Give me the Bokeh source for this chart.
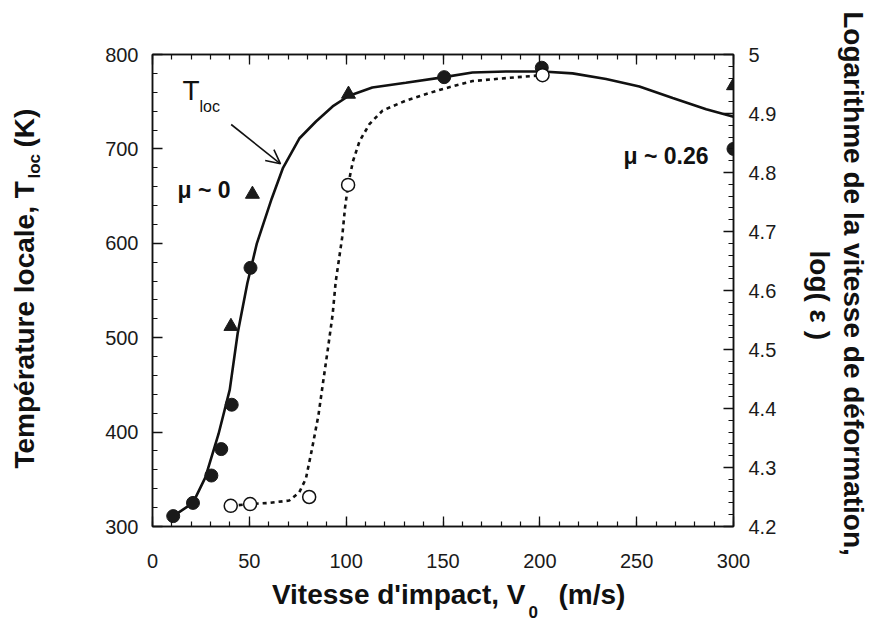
import numpy as np
from bokeh.plotting import figure
from bokeh.layouts import row, column
from bokeh.models import (Range1d, LinearAxis, FixedTicker, Label, Arrow, OpenHead,
                          CustomJSTickFormatter)
from bokeh.embed import file_html
from bokeh.resources import INLINE

# ---------------- data ----------------
x_ticks = [0, 50, 100, 150, 200, 250, 300]
t_ticks = [300, 400, 500, 600, 700, 800]
log_ticks = [4.2, 4.3, 4.4, 4.5, 4.6, 4.7, 4.8, 4.9, 5.0]
log_tick_labels = ["4.2", "4.3", "4.4", "4.5", "4.6", "4.7", "4.8", "4.9", "5"]

# T_loc model curve (solid, left axis)
tloc_v = [10.7, 20.9, 27.3, 34.1, 39.9, 44.0, 49.0, 53.9, 61.5, 67.4, 75.8, 84.4, 93.0,
          101.2, 113.5, 130.8, 150.6, 165.2, 182.5, 201.4, 216.9, 234.2, 251.4, 268.6,
          285.9, 300]
tloc_t = [311, 325, 352, 398, 445, 505, 558, 600, 647, 680, 711, 729, 745,
          756, 765, 770, 776, 781, 782, 782, 780, 774, 766, 754, 742, 734]

# mu ~ 0 (triangles, left axis)
mu0_v = [40.5, 51.6, 101.2, 300]
mu0_t = [512, 652, 758, 767]

# mu ~ 0.26 (filled circles, left axis)
mu026_v = [10.7, 20.9, 30.4, 35.5, 40.9, 50.6, 150.6, 201.0, 300]
mu026_t = [311, 325, 354, 382, 429, 574, 776, 786, 700]

# log strain rate (open circles + dotted curve, right axis)
lograte_v = [40.4, 50.4, 80.9, 101.0, 201.4]
lograte = [4.235, 4.238, 4.250, 4.779, 4.965]
logfit_v = [40.4, 50.4, 60.5, 70.6, 75.8, 79.2, 82.4, 85.7, 88.1, 90.6, 93.0, 94.6, 97.9,
            99.4, 101.0, 103.5, 106.9, 112.0, 118.8, 130.9, 148.1, 165.3, 182.6, 201.4]
logfit = [4.235, 4.238, 4.240, 4.244, 4.258, 4.281, 4.332, 4.389, 4.445, 4.502, 4.559,
          4.615, 4.689, 4.740, 4.779, 4.819, 4.853, 4.882, 4.905, 4.922, 4.940, 4.955,
          4.960, 4.965]

# ---------------- style ----------------
FONT = "Liberation Sans"
INK = "#111111"

MAIN_W, MAIN_H = 690, 575
SIDE_L, SIDE_R = 90, 90
BOTTOM_H = 61
TOTAL_W = SIDE_L + MAIN_W + SIDE_R

p = figure(width=MAIN_W, height=MAIN_H, output_backend="svg", toolbar_location=None,
           x_range=Range1d(0, 300), y_range=Range1d(300, 800),
           x_axis_location=None, y_axis_location=None,
           min_border_left=62, min_border_right=47,
           min_border_top=54, min_border_bottom=49, frame_align=False)
p.background_fill_color = "white"
p.border_fill_color = "white"
p.outline_line_color = INK
p.outline_line_width = 1.5
p.xgrid.visible = False
p.ygrid.visible = False
p.extra_y_ranges = {"log": Range1d(4.2, 5.0)}


def style_axis(ax, show_labels=True):
    ax.axis_line_color = INK
    ax.axis_line_width = 1.5
    ax.major_tick_in = 10
    ax.major_tick_out = 0
    ax.minor_tick_in = 5
    ax.minor_tick_out = 0
    ax.major_tick_line_color = INK
    ax.major_tick_line_width = 1.3
    ax.minor_tick_line_color = INK
    ax.minor_tick_line_width = 1.2
    ax.major_label_text_font = FONT
    ax.major_label_text_font_size = "20px" if show_labels else "0px"
    ax.major_label_text_color = "#1a1a1a"


x_minor = list(np.arange(0, 301, 10))
bottom = LinearAxis(ticker=FixedTicker(ticks=x_ticks, minor_ticks=x_minor),
                    major_label_standoff=27)
style_axis(bottom)
p.add_layout(bottom, "below")

top = LinearAxis(ticker=FixedTicker(ticks=x_ticks, minor_ticks=x_minor),
                 formatter=CustomJSTickFormatter(code="return '';"))
style_axis(top, show_labels=False)
p.add_layout(top, "above")

left = LinearAxis(ticker=FixedTicker(ticks=t_ticks, minor_ticks=list(np.arange(300, 801, 20))),
                  major_label_standoff=14)
style_axis(left)
p.add_layout(left, "left")

right = LinearAxis(y_range_name="log",
                   ticker=FixedTicker(ticks=log_ticks,
                                      minor_ticks=[round(v, 2) for v in np.arange(4.2, 5.001, 0.02)]),
                   formatter=CustomJSTickFormatter(
                       args=dict(tv=log_ticks, tl=log_tick_labels),
                       code="""
                       let best = 0, d = 1e9;
                       for (let i = 0; i < tv.length; i++) {
                         const e = Math.abs(tv[i] - tick);
                         if (e < d) { d = e; best = i; }
                       }
                       return tl[best];"""),
                   major_label_standoff=15)
style_axis(right)
p.add_layout(right, "right")

# ---------------- curves & points ----------------
p.line(tloc_v, tloc_t, line_color=INK, line_width=2.6)
p.line(logfit_v, logfit, y_range_name="log", line_color=INK, line_width=2.6,
       line_dash="4 4")

p.scatter(mu026_v, mu026_t, marker="circle", size=13, fill_color="#1a1a1a",
          line_color="#1a1a1a")
p.scatter(mu0_v, mu0_t, marker="triangle", size=14, fill_color="#1a1a1a",
          line_color="#1a1a1a")
p.scatter(lograte_v, lograte, y_range_name="log", marker="circle", size=13,
          fill_color="white", line_color=INK, line_width=1.5)


def lab(fig, x, y, text, size, bold=False, align="left", angle=0.0, units="screen"):
    fig.add_layout(Label(x=x, y=y, x_units=units, y_units=units, text=text,
                         text_font=FONT, text_font_size=f"{size}px",
                         text_font_style="bold" if bold else "normal",
                         text_color=INK, text_align=align, text_baseline="alphabetic",
                         angle=angle))


# in-plot annotations (screen units relative to the frame)
lab(p, 30, 436, "T", 28)
lab(p, 47, 420, "loc", 16)
p.add_layout(Arrow(end=OpenHead(size=14, line_width=1.6, line_color=INK),
                   x_start=78.7, y_start=402, x_end=128, y_end=362.7,
                   start_units="screen", end_units="screen",
                   line_width=1.6, line_color=INK))
lab(p, 25, 337, "\u03bc ~ 0", 23, bold=True)
lab(p, 556, 371, "\u03bc ~ 0.26", 23, bold=True, align="right")


# ---------------- title panels (plain figures whose frame fills them) ----------------
def panel(w, h):
    f = figure(width=w, height=h, output_backend="svg", toolbar_location=None,
               x_range=Range1d(0, w), y_range=Range1d(0, h),
               x_axis_location=None, y_axis_location=None,
               min_border=0, min_border_left=0, min_border_right=0,
               min_border_top=0, min_border_bottom=0, frame_align=False)
    f.outline_line_color = None
    f.background_fill_color = "white"
    f.border_fill_color = "white"
    f.xgrid.visible = False
    f.ygrid.visible = False
    return f


# left title (reads upward)
pl = panel(SIDE_L, MAIN_H)
up = np.pi / 2
lab(pl, 24, MAIN_H - 468, "Température locale, T", 28, bold=True, angle=up, units="data")
lab(pl, 34, MAIN_H - 178, "loc", 17, bold=True, angle=up, units="data")
lab(pl, 24, MAIN_H - 147, "(K)", 28, bold=True, angle=up, units="data")

# right title (reads downward)
pr = panel(SIDE_R, MAIN_H)
down = -np.pi / 2
lab(pr, 73, MAIN_H - 283, "Logarithme de la vitesse de déformation,", 28, bold=True,
    align="center", angle=down, units="data")
lab(pr, 39, MAIN_H - 250, "log( \u03b5 )", 28, bold=True, angle=down, units="data")

# bottom title
pb = panel(TOTAL_W, BOTTOM_H)
H0 = MAIN_H + BOTTOM_H
lab(pb, 525, H0 - 594, "Vitesse d'impact, V", 28, bold=True, align="right", units="data")
lab(pb, 528, H0 - 611, "0", 17, bold=True, units="data")
lab(pb, 558, H0 - 594, "(m/s)", 28, bold=True, units="data")

layout = column(row(pl, p, pr, spacing=0), pb, spacing=0)
open("out.html", "w").write(file_html(layout, INLINE))
